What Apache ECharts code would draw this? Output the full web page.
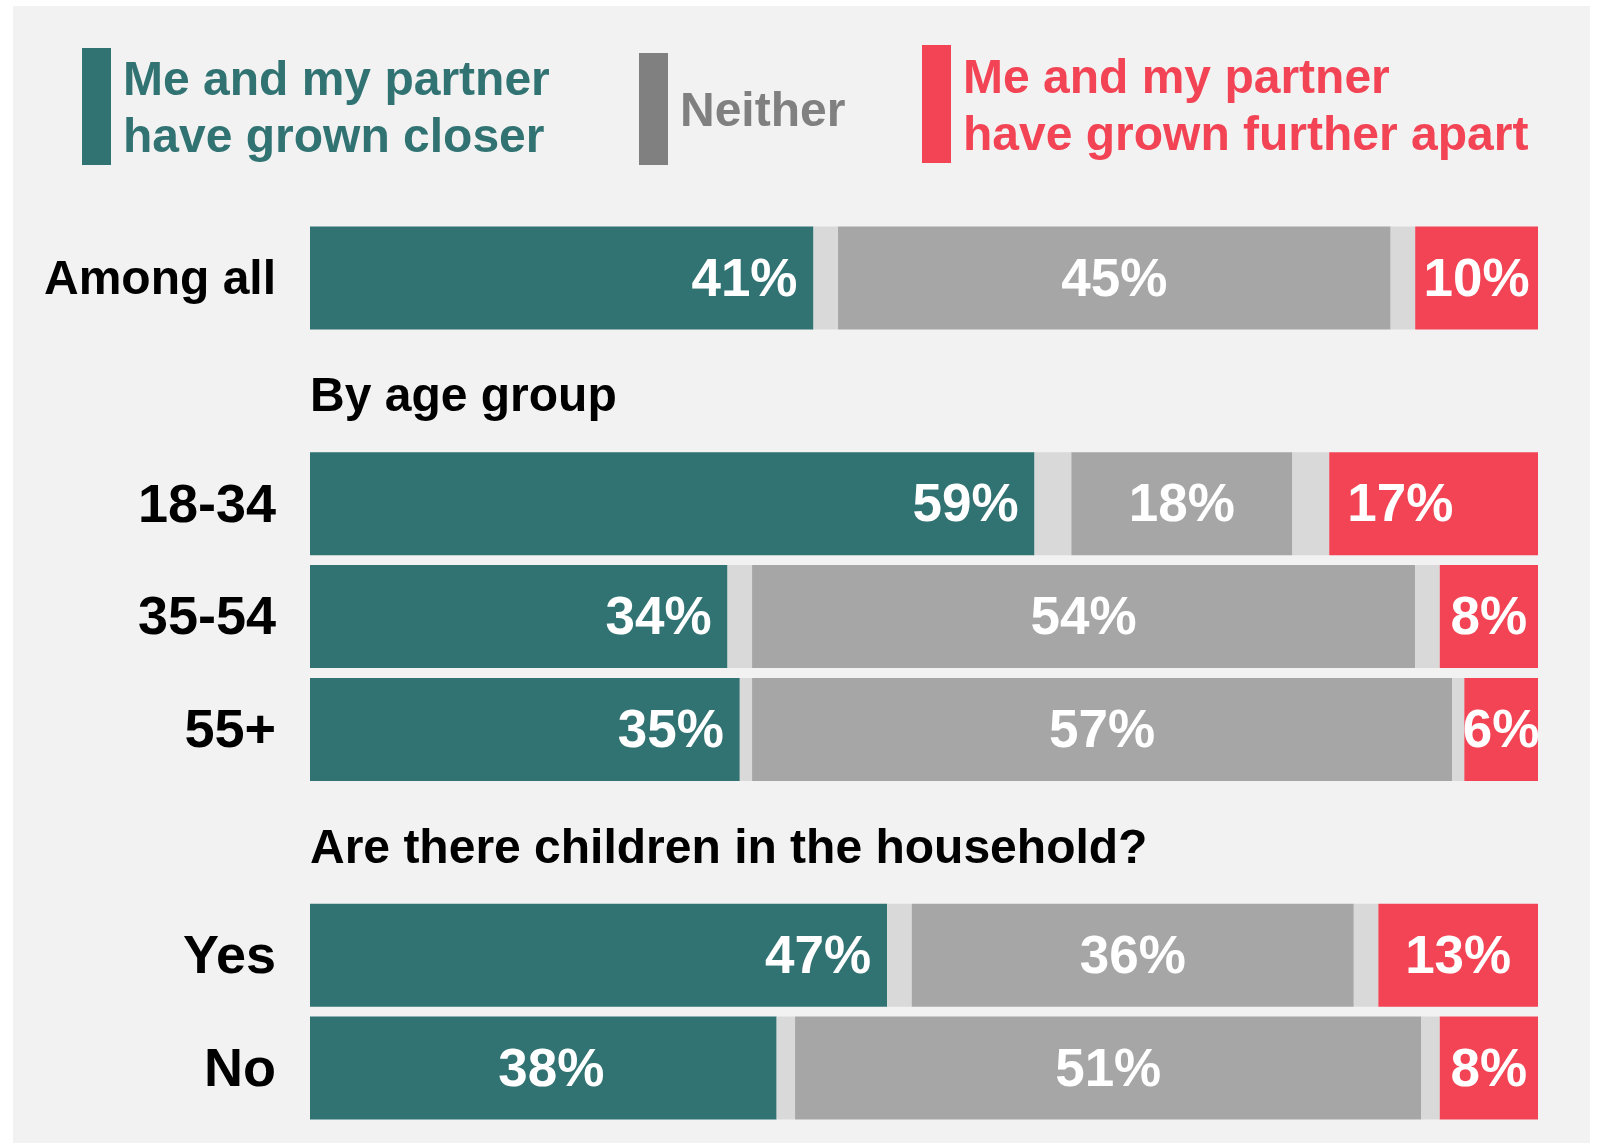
<!DOCTYPE html>
<html><head><meta charset="utf-8">
<script src="https://cdn.jsdelivr.net/npm/echarts@6/dist/echarts.min.js"></script>
<style>
html,body{margin:0;padding:0;background:#fff;}
#panel{position:absolute;left:13px;top:6px;width:1577px;height:1137px;background:#f2f2f2;}
#chart{position:absolute;left:0;top:0;width:1600px;height:1145px;}
</style>
</head><body><div id="panel"></div><div id="chart"></div>
<script>
// ---- data ----
const categories = ['Among all', 'By age group', '18-34', '35-54', '55+', 'Are there children in the household?', 'Yes', 'No'];
const headerRows = ['By age group', 'Are there children in the household?'];
const closer   = [41, null, 59, 34, 35, null, 47, 38];
const gapLeft  = [2,  null, 3,  2,  1,  null, 2,  1.5];
const neither  = [45, null, 18, 54, 57, null, 36, 51];
const gapRight = [2,  null, 3,  2,  1,  null, 2,  1.5];
const apart    = [10, null, 17, 8,  6,  null, 13, 8];
const seriesNames = ['Me and my partner\nhave grown closer', 'Neither', 'Me and my partner\nhave grown further apart'];

const FONT = "'Liberation Sans', Arial, sans-serif";
const TEAL = '#317372', GRAY = '#a6a6a6', LIGHT = '#d9d9d9', RED = '#f24455', LEGGRAY = '#808080';

const headerData = categories.map(c => headerRows.includes(c) ? 0 : null);

const valLabel = {
  show: true, color: '#fff', fontSize: 53, fontWeight: 'bold', fontFamily: FONT, offset: [0, 3],
  formatter: p => p.value == null ? '' : p.value + '%'
};

function mk(arr, overrides) {
  return arr.map((v, i) => {
    if (overrides && overrides[i]) return { value: v, label: overrides[i] };
    return v;
  });
}

function legendFor(name, color, left, top, itemHeight, iconColor, spacer) {
  const item = { name: name };
  if (iconColor) item.itemStyle = { color: iconColor };
  return {
    orient: 'horizontal', padding: 0, icon: 'rect', itemWidth: 29, itemHeight: itemHeight,
    selectedMode: false, left: left, top: top, data: [item],
    formatter: n => '{e| }\n' + n.split('\n').map(l => '{t|' + l + '}').join('\n'),
    textStyle: {
      fontSize: 48, fontWeight: 'bold', fontFamily: FONT, color: color, padding: [0, 0, 0, 7],
      rich: {
        e: { fontSize: 1, lineHeight: spacer, height: spacer },
        t: { fontSize: 48, fontWeight: 'bold', fontFamily: FONT, color: color, lineHeight: 57 }
      }
    }
  };
}

const chart = echarts.init(document.getElementById('chart'), null, { renderer: 'canvas' });
chart.setOption({
  backgroundColor: 'transparent',
  animation: false,
  legend: [
    legendFor(seriesNames[0], TEAL, 82, 45.5, 117, null, 8),
    legendFor(seriesNames[1], LEGGRAY, 639, 53, 112, LEGGRAY, 8),
    legendFor(seriesNames[2], RED, 922, 42.5, 118, null, 9)
  ],
  grid: { left: 310, right: 62, top: 221.6, bottom: 20.6, containLabel: false },
  xAxis: { type: 'value', min: 0, max: 100, show: false },
  yAxis: {
    type: 'category', inverse: true, data: categories,
    axisLine: { show: false }, axisTick: { show: false }, splitLine: { show: false },
    axisLabel: {
      margin: 34, color: '#000', fontWeight: 'bold', fontFamily: FONT,
      formatter: (v, i) => headerRows.includes(v) ? '' : (i === 0 ? '{s|' + v + '}' : '{b|' + v + '}'),
      rich: {
        s: { fontSize: 48, fontWeight: 'bold', fontFamily: FONT, color: '#000', padding: [6, 0, 0, 0] },
        b: { fontSize: 54, fontWeight: 'bold', fontFamily: FONT, color: '#000', padding: [6, 0, 0, 0] }
      }
    }
  },
  series: [
    { type: 'bar', name: 'header', stack: 'total', data: headerData, barWidth: 103,
      itemStyle: { color: 'transparent' },
      label: { show: true, position: 'insideLeft', distance: 0, offset: [0, 7], color: '#000', fontSize: 48,
        fontWeight: 'bold', fontFamily: FONT, formatter: p => categories[p.dataIndex] } },
    { type: 'bar', name: seriesNames[0], stack: 'total', barWidth: 103,
      data: mk(closer, { 7: { position: 'inside', offset: [8, 3] } }),
      itemStyle: { color: TEAL },
      label: Object.assign({}, valLabel, { position: 'insideRight', distance: 16 }) },
    { type: 'bar', name: 'gapL', stack: 'total', barWidth: 103, data: gapLeft,
      itemStyle: { color: LIGHT }, label: { show: false } },
    { type: 'bar', name: seriesNames[1], stack: 'total', barWidth: 103, data: neither,
      itemStyle: { color: GRAY },
      label: Object.assign({}, valLabel, { position: 'inside' }) },
    { type: 'bar', name: 'gapR', stack: 'total', barWidth: 103, data: gapRight,
      itemStyle: { color: LIGHT }, label: { show: false } },
    { type: 'bar', name: seriesNames[2], stack: 'total', barWidth: 103,
      data: mk(apart, { 2: { position: 'insideLeft', distance: 18 } }),
      itemStyle: { color: RED },
      label: Object.assign({}, valLabel, { position: 'inside' }) }
  ]
});
</script>
</body></html>
